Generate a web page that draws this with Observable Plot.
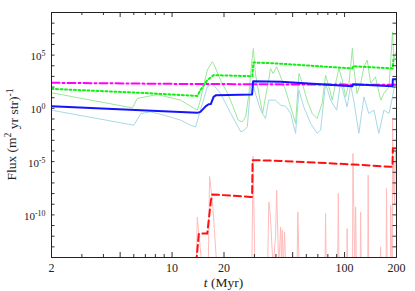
<!DOCTYPE html>
<html><head><meta charset="utf-8">
<script src="https://cdn.jsdelivr.net/npm/d3@7"></script>
<script src="https://cdn.jsdelivr.net/npm/@observablehq/plot@0.6"></script>
<style>body{margin:0;background:#fff} svg{font-family:"Liberation Serif",serif}</style>
</head><body><div id="chart"></div><script>
// Values: time t (Myr) and log10 of flux (m^2 yr str)^-1
const magentaT = [2, 4, 6, 10, 20, 30, 50, 100, 150, 200];
const magentaLog = [2.40, 2.36, 2.33, 2.30, 2.28, 2.26, 2.25, 2.23, 2.22, 2.22];

const greenDotT = [2, 6.6, 14.0, 14.6, 16.0, 17.4, 29.2, 29.6, 40, 111, 112, 190, 192, 200];
const greenDotLog = [1.83, 1.46, 1.17, 1.71, 2.65, 3.12, 3.02, 4.31, 4.22, 3.75, 3.96, 3.75, 4.6, 4.6];

const blueT = [2, 6.6, 14.0, 14.6, 15.7, 16.3, 16.8, 17.4, 18.0, 29.1, 29.5, 42.6, 111, 112, 189.7, 190.5, 200];
const blueLog = [0.21, -0.17, -0.42, -0.33, 0.21, 0.39, 0.42, 1.08, 1.24, 1.30, 2.55, 2.49, 2.08, 2.27, 2.08, 2.74, 2.74];

const redDashT = [13.8, 14.3, 16.0, 16.8, 17.1, 28.5, 29.1, 29.3, 42.6, 113, 185, 189.5, 190.5, 200];
const redDashLog = [-14.5, -11.75, -11.75, -8.62, -8.08, -8.31, -8.31, -4.86, -4.93, -5.27, -5.49, -5.49, -3.74, -3.74];

const lightGreenT = [2, 5.9, 6.28, 8.2, 11.2, 14.0, 14.6, 16.0, 17.1, 17.4, 19.1, 21.0, 22.6, 24.2, 25.5, 26.7, 27.9, 28.9, 29.6, 30.4, 31.6, 33.5, 34.8, 36.3, 37.2, 38.5, 40.4, 42.6, 45.5, 48.7, 52, 54.4, 56.9, 60.6, 64.9, 69.3, 74.1, 77.6, 81.1, 84.8, 88.7, 92.7, 97.0, 101.4, 106, 111, 113, 118, 124, 129.5, 135.4, 141.6, 151, 162, 169, 181, 189.7, 193, 200];
const lightGreenLog = [1.46, 0.05, 0.93, 1.3, 0.77, -0.17, 0.77, 3.59, 4.37, 4.22, 2.65, 1.4, 0.14, -1.11, -1.27, -0.8, 1.4, 4.22, 5.62, 3.28, 1.71, -0.48, 1.08, 2.65, 3.75, 3.28, 3.9, 2.96, 1.71, 0.14, -1.42, 3.28, 2.34, 0.77, -0.48, -0.95, 0.46, 3.12, 2.02, 0.77, 2.34, 3.75, 2.65, 1.08, 2.34, 5.63, 3.9, 1.4, 2.34, 3.9, 4.53, 2.34, 2.96, 0.77, 1.4, 2.02, 7.18, 4.53, 5.46];

const lightBlueT = [2, 6.0, 6.6, 7.5, 9.0, 11.2, 12.8, 13.7, 14.6, 16.0, 17.1, 19.1, 21.9, 25.0, 26.2, 27.3, 28.5, 29.3, 30.4, 32.6, 34.8, 36.3, 39.7, 42.6, 45.5, 48.7, 52, 54.4, 58, 63.6, 69.3, 72.6, 77.6, 83, 90, 94.8, 103.5, 108.4, 113, 121, 129.5, 138, 148, 158, 169, 181, 189.7, 197, 200];
const lightBlueLog = [-0.17, -1.58, -0.48, -0.33, -0.64, -1.1, -1.58, -1.74, -0.17, 2.02, 2.34, 1.4, -0.48, -2.2, -2.05, -1.74, 2.0, 2.5, 1.4, -0.17, -0.95, 0.77, 0.77, 0.3, 0.2, -0.48, -2.34, 1.71, 0.14, -1.42, -2.34, -2.05, 2.34, 0.77, -0.17, 2.49, 0.14, 2.18, 0.77, -2.34, 1.08, -0.48, -0.17, -2.34, -0.17, -0.48, 1.08, 2.65, 2.4];

const pinkT = [13.8, 14.0, 14.95, 16.2, 16.5, 17.2, 18.2, 29.0, 29.5, 30.2, 35.8, 36.4, 37.2, 38.5, 39.8, 40.4, 41.5, 42.6, 43.1, 43.5, 44.2, 44.9, 45.6, 53.0, 53.6, 54.5, 77.0, 77.6, 78.3, 91.2, 92, 92.8, 103, 103.5, 104.2, 111.2, 111.8, 113, 114.5, 115.9, 117, 123.2, 123.9, 124.8, 136.3, 137, 138, 161, 161.8, 162.5, 174, 175, 176.5, 184.2, 185, 186.5, 189.2, 189.7, 191, 193, 195, 197, 200];
const pinkLog = [-15, -10.2, -15, -15, -6.4, -9, -15, -15, -4.5, -15, -15, -8.78, -10.19, -15, -12, -7.68, -15, -11.13, -15, -11.44, -15, -11.6, -15, -15, -9.72, -15, -15, -9.87, -15, -15, -7.99, -15, -15, -11.28, -15, -15, -4.24, -9, -15, -9.25, -15, -15, -9.72, -15, -15, -6.27, -15, -15, -13.0, -15, -15, -7.52, -15, -15, -9.09, -12, -15, -0.92, -8, -5, -9, -4, -6];

const xMajorTicks = [2, 5, 10, 20, 50, 100, 200];
const xMinorTicks = [3, 4, 6, 7, 8, 9, 30, 40, 60, 70, 80, 90];
const yDecadeExp = [-13, -12, -11, -10, -9, -8, -7, -6, -5, -4, -3, -2, -1, 0, 1, 2, 3, 4, 5, 6, 7, 8];
const yLabelExp = [-10, -5, 0, 5];

const rows = (T, L) => T.map((t, i) => ({t, f: Math.pow(10, L[i])}));

const W = 415, H = 291, mL = 51, mR = 19, mT = 12, mB = 34;
const innerH = H - mT - mB;
const innerW = W - mL - mR;
const yDec = yDecadeExp.map(e => Math.pow(10, e));
const yLab = yLabelExp.map(e => Math.pow(10, e));

const svg = Plot.plot({
  width: W, height: H,
  marginLeft: mL, marginRight: mR, marginTop: mT, marginBottom: mB,
  style: {fontFamily: "'Liberation Serif', serif", background: "#fff", color: "#222"},
  x: {type: "log", domain: [2, 200]},
  y: {type: "log", domain: [1e-14, 1e9]},
  marks: [
    Plot.line(rows(pinkT, pinkLog), {x: "t", y: "f", stroke: "#ffbcbc", strokeWidth: 1, clip: true}),
    Plot.line(rows(lightBlueT, lightBlueLog), {x: "t", y: "f", stroke: "#a8d8e6", strokeWidth: 1, clip: true}),
    Plot.line(rows(lightGreenT, lightGreenLog), {x: "t", y: "f", stroke: "#9ae89a", strokeWidth: 1, clip: true}),
    Plot.line(rows(magentaT, magentaLog), {x: "t", y: "f", stroke: "#ff00ff", strokeWidth: 2, strokeDasharray: "8,3,2,3", clip: true}),
    Plot.line(rows(greenDotT, greenDotLog), {x: "t", y: "f", stroke: "#11ee11", strokeWidth: 2, strokeDasharray: "2,2.5", clip: true}),
    Plot.line(rows(blueT, blueLog), {x: "t", y: "f", stroke: "#1414ff", strokeWidth: 2, clip: true}),
    Plot.line(rows(redDashT, redDashLog), {x: "t", y: "f", stroke: "#ff1010", strokeWidth: 2, strokeDasharray: "7,4", clip: true}),
    // inward ticks, bottom & top
    Plot.ruleX(xMajorTicks, {x: d => d, insetTop: innerH - 5, stroke: "#333"}),
    Plot.ruleX(xMinorTicks, {x: d => d, insetTop: innerH - 3, stroke: "#333"}),
    Plot.ruleX(xMajorTicks, {x: d => d, insetBottom: innerH - 5, stroke: "#333"}),
    Plot.ruleX(xMinorTicks, {x: d => d, insetBottom: innerH - 3, stroke: "#333"}),
    // inward ticks, left & right
    Plot.ruleY(yDec, {y: d => d, insetRight: innerW - 3.5, stroke: "#333"}),
    Plot.ruleY(yDec, {y: d => d, insetLeft: innerW - 3.5, stroke: "#333"}),
    Plot.frame({stroke: "#222"}),
    Plot.axisX(xMajorTicks, {tickSize: 0, tickPadding: 5.5, fontSize: 12, tickFormat: d => String(d), label: null}),
    Plot.axisY(yLab, {tickSize: 0, tickPadding: 6, fontSize: 11, dy: 1.5, tickFormat: d => "10^" + Math.round(Math.log10(d)), label: null})
  ]
});

// superscripts for y tick labels
d3.select(svg).selectAll('g[aria-label="y-axis tick label"] text').each(function() {
  const s = this.textContent;
  if (!s.startsWith("10^")) return;
  const exp = s.slice(3);
  const t = d3.select(this);
  t.text(null);
  t.append("tspan").text("10");
  t.append("tspan").attr("dy", "-0.5em").attr("font-size", "0.72em").text(exp);
});

const s = d3.select(svg);
const yl = s.append("text")
  .attr("transform", `translate(16,${mT + innerH / 2}) rotate(-90)`)
  .attr("text-anchor", "middle").attr("font-size", 13.5).attr("fill", "#222");
yl.append("tspan").text("Flux (m");
yl.append("tspan").attr("dy", "-0.5em").attr("font-size", "0.72em").text("2");
yl.append("tspan").attr("dy", "0.5em").text(" yr str)");
yl.append("tspan").attr("dy", "-0.5em").attr("font-size", "0.72em").text("-1");

const xl = s.append("text")
  .attr("x", mL + innerW / 2).attr("y", 287)
  .attr("text-anchor", "middle").attr("font-size", 13.5).attr("fill", "#222");
xl.append("tspan").attr("font-style", "italic").text("t");
xl.append("tspan").text(" (Myr)");

document.getElementById("chart").appendChild(svg);
</script></body></html>
